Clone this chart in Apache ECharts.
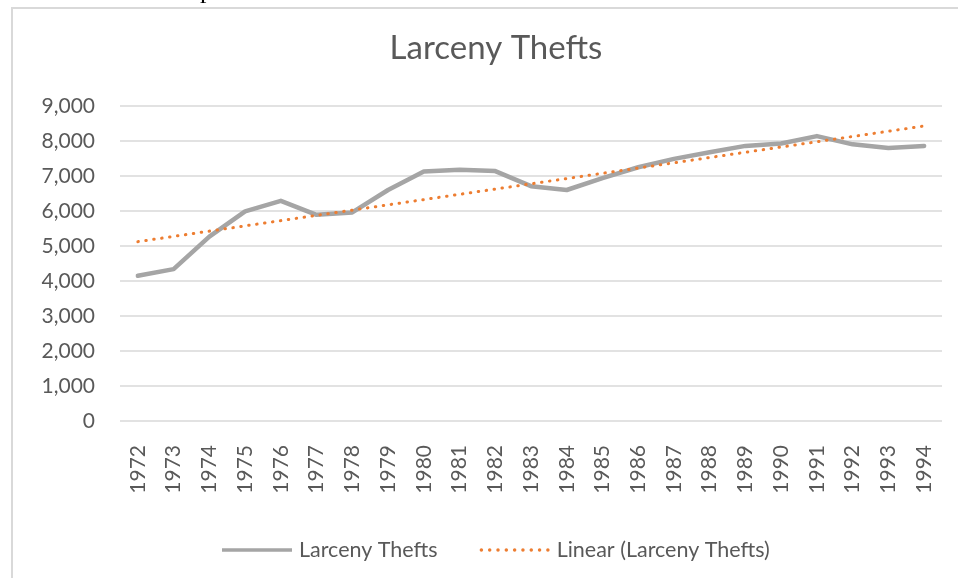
<!DOCTYPE html>
<html>
<head>
<meta charset="utf-8">
<script src="https://cdn.jsdelivr.net/npm/echarts@6/dist/echarts.min.js"></script>
<style>
  html, body { margin: 0; padding: 0; background: #fff; }
  #chart { width: 958px; height: 578px; }
</style>
</head>
<body>
<div id="chart"></div>
<script>
// data
const years = ["1972", "1973", "1974", "1975", "1976", "1977", "1978", "1979", "1980", "1981", "1982", "1983",
  "1984", "1985", "1986", "1987", "1988", "1989", "1990", "1991", "1992", "1993", "1994"];
const thefts = [4150, 4340, 5270, 5990, 6290, 5890, 5960, 6600, 7130, 7180, 7140, 6710,
  6600, 6940, 7250, 7490, 7680, 7860, 7930, 8140, 7905, 7800, 7860];
// trend line ends (Excel linear trendline)
const trendYears = ["1972", "1994"];
const trendValues = [5124, 8429];
const yTicks = { min: 0, max: 9000, step: 1000 };

const textColor = "#595959";
const font = "Lato";

// legend icons: solid bar and a row of dots, both 70 x 3.5
const barIcon = "path://M0,0L70,0L70,3.5L0,3.5Z";
let dotsIcon = "path://";
for (let i = 0; i < 9; i++) {
  const cx = 1.75 + i * (66.5 / 8);
  dotsIcon += `M${cx - 1.75},1.75a1.75,1.75 0 1,0 3.5,0a1.75,1.75 0 1,0 -3.5,0Z`;
}

const chart = echarts.init(document.getElementById("chart"), null, { renderer: "canvas" });

const option = {
  animation: false,
  backgroundColor: "#fff",
  textStyle: { fontFamily: font },
  title: {
    text: "Larceny Thefts",
    left: 491,
    textAlign: "center",
    top: 27,
    textStyle: { fontFamily: font, fontSize: 33, fontWeight: "normal", color: textColor }
  },
  graphic: [
    {
      type: "rect",
      shape: { x: 12, y: 8, width: 980, height: 600 },
      style: { fill: "none", stroke: "#D9D9D9", lineWidth: 2 },
      silent: true
    },
    {
      type: "text",
      left: 200,
      top: -22,
      style: { text: "p", font: "26px 'Liberation Serif'", fill: "#000" },
      silent: true
    }
  ],
  legend: {
    left: 217,
    top: 534,
    itemWidth: 70,
    itemHeight: 3.5,
    itemGap: 42,
    textStyle: { fontFamily: font, fontSize: 21.5, color: textColor, padding: [0, 0, 0, 2] },
    data: [
      { name: "Larceny Thefts", icon: barIcon },
      { name: "Linear (Larceny Thefts)", icon: dotsIcon }
    ]
  },
  grid: { left: 120, right: 16, top: 106, bottom: 157 },
  xAxis: {
    type: "category",
    data: years,
    boundaryGap: true,
    axisLine: { show: false },
    axisTick: { show: false },
    axisLabel: {
      rotate: 90,
      margin: 24,
      fontFamily: font,
      fontSize: 21,
      color: textColor
    }
  },
  yAxis: {
    type: "value",
    min: yTicks.min,
    max: yTicks.max,
    interval: yTicks.step,
    axisLine: { show: false },
    axisTick: { show: false },
    splitLine: { lineStyle: { color: "#D9D9D9", width: 1.5 } },
    axisLabel: {
      margin: 25,
      fontFamily: font,
      fontSize: 21,
      color: textColor,
      formatter: v => v.toLocaleString("en-US")
    }
  },
  series: [
    {
      name: "Larceny Thefts",
      type: "line",
      data: thefts,
      symbol: "none",
      lineStyle: { color: "#A5A5A5", width: 4.5, join: "round", cap: "round" },
      itemStyle: { color: "#A5A5A5" }
    },
    {
      name: "Linear (Larceny Thefts)",
      type: "line",
      data: trendYears.map((y, i) => [y, trendValues[i]]),
      symbol: "none",
      lineStyle: { color: "#ED7D31", width: 3, type: [0.5, 7.5], cap: "round" },
      itemStyle: { color: "#ED7D31" }
    }
  ]
};

chart.setOption(option);
</script>
</body>
</html>
